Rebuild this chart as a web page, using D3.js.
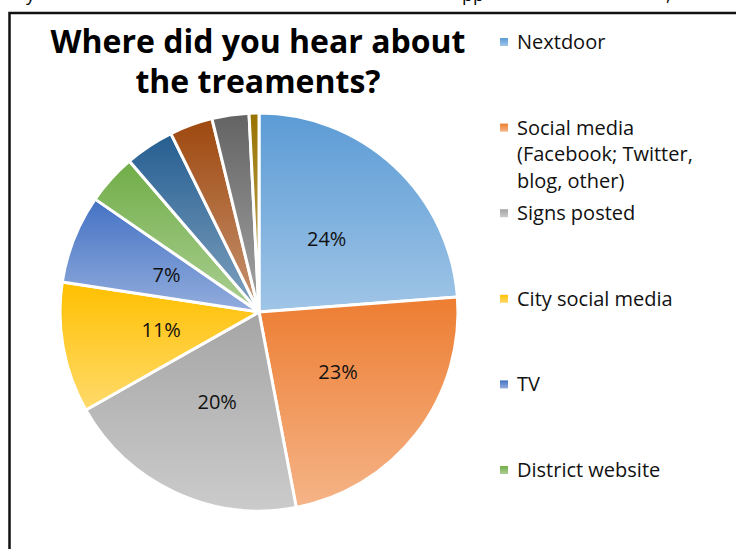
<!DOCTYPE html>
<html>
<head>
<meta charset="utf-8">
<script src="https://cdn.jsdelivr.net/npm/d3@7"></script>
<style>
  body { margin: 0; background: #fff; }
  svg { display: block; }
</style>
</head>
<body>
<svg id="chart" width="736" height="549"></svg>
<script>
const width = 736;
const height = 549;

// data (percent of answers)
const categories = [
  "Nextdoor",
  "Social media (Facebook; Twitter, blog, other)",
  "Signs posted",
  "City social media",
  "TV",
  "District website",
  "Newspaper",
  "Word of mouth",
  "Email",
  "Other"
];
const values = [23.8, 23.2, 19.8, 10.6, 7.2, 4.1, 4.0, 3.5, 3.0, 0.8];
const colors = ["#5b9bd5", "#ed7d31", "#a5a5a5", "#ffc000", "#4472c4", "#70ad47",
  "#255e91", "#9e480e", "#636363", "#997300"];
// wrapped legend lines (only the first six fit in the box)
const legendLines = [
  ["Nextdoor"],
  ["Social media", "(Facebook; Twitter,", "blog, other)"],
  ["Signs posted"],
  ["City social media"],
  ["TV"],
  ["District website"]
];
const titleLines = ["Where did you hear about", "the treaments?"];

const cx = 259;
const cy = 312;
const radius = 199;

let svg = d3.select("#chart");

// gradients: base colour on top, lighter at the bottom
let defs = svg.append("defs");
colors.forEach((c, i) => {
  let g = defs.append("linearGradient")
    .attr("id", "grad" + i)
    .attr("x1", 0).attr("y1", 0).attr("x2", 0).attr("y2", 1);
  g.append("stop").attr("offset", "0%").attr("stop-color", c);
  g.append("stop").attr("offset", "100%").attr("stop-color", d3.interpolateRgb(c, "#fff")(0.42));
});

// cropped caption line above the frame (only descenders show)
const capFont = "'Open Sans', sans-serif";
[["y", 26], ["pp", 462], [",", 666]].forEach(([t, x]) => {
  svg.append("text").attr("x", x).attr("y", 1)
    .style("font-family", capFont).style("font-size", "18px").text(t);
});

// frame of the chart area
svg.append("rect")
  .attr("x", 9.5).attr("y", 13)
  .attr("width", 800).attr("height", 600)
  .attr("fill", "none").attr("stroke", "#111").attr("stroke-width", 2.5);

// title
svg.append("g")
  .selectAll("text")
  .data(titleLines)
  .join("text")
  .attr("x", 258)
  .attr("y", (d, i) => 53 + i * 40)
  .attr("text-anchor", "middle")
  .style("font-family", "'Open Sans', sans-serif")
  .style("font-weight", "bold")
  .style("font-size", "32px")
  .text(d => d);

// pie
const pie = d3.pie().sort(null).value(d => d);
const arcs = pie(values);
const arc = d3.arc().innerRadius(0).outerRadius(radius);
const labelArc = d3.arc().innerRadius(radius * 0.5).outerRadius(radius * 0.5);

let pieGroup = svg.append("g").attr("transform", `translate(${cx}, ${cy})`);

pieGroup.selectAll("path")
  .data(arcs)
  .join("path")
  .attr("d", arc)
  .attr("fill", (d, i) => `url(#grad${i})`)
  .attr("stroke", "#fff")
  .attr("stroke-width", 3)
  .attr("stroke-linejoin", "round");

pieGroup.selectAll("text")
  .data(arcs.filter(d => d.value >= 5))
  .join("text")
  .attr("transform", d => `translate(${labelArc.centroid(d)})`)
  .attr("text-anchor", "middle")
  .attr("dy", "0.35em")
  .style("font-family", "'Open Sans', sans-serif")
  .style("font-size", "20px")
  .style("fill", "#111")
  .text(d => `${Math.round(d.value)}%`);

// legend
const legendX = 500;
const legendY = 42;
const legendStep = 85.6;
const lineStep = 26.5;

let legend = svg.append("g")
  .selectAll("g")
  .data(legendLines)
  .join("g")
  .attr("transform", (d, i) => `translate(${legendX}, ${legendY + i * legendStep})`);

legend.append("rect")
  .attr("x", 0).attr("y", -4)
  .attr("width", 8).attr("height", 8)
  .attr("fill", (d, i) => `url(#grad${i})`);

legend.selectAll("text")
  .data(d => d)
  .join("text")
  .attr("x", 17)
  .attr("y", (d, j) => j * lineStep)
  .attr("dy", "0.35em")
  .style("font-family", "'Open Sans', sans-serif")
  .style("font-size", "20px")
  .style("fill", "#111")
  .text(d => d);
</script>
</body>
</html>
